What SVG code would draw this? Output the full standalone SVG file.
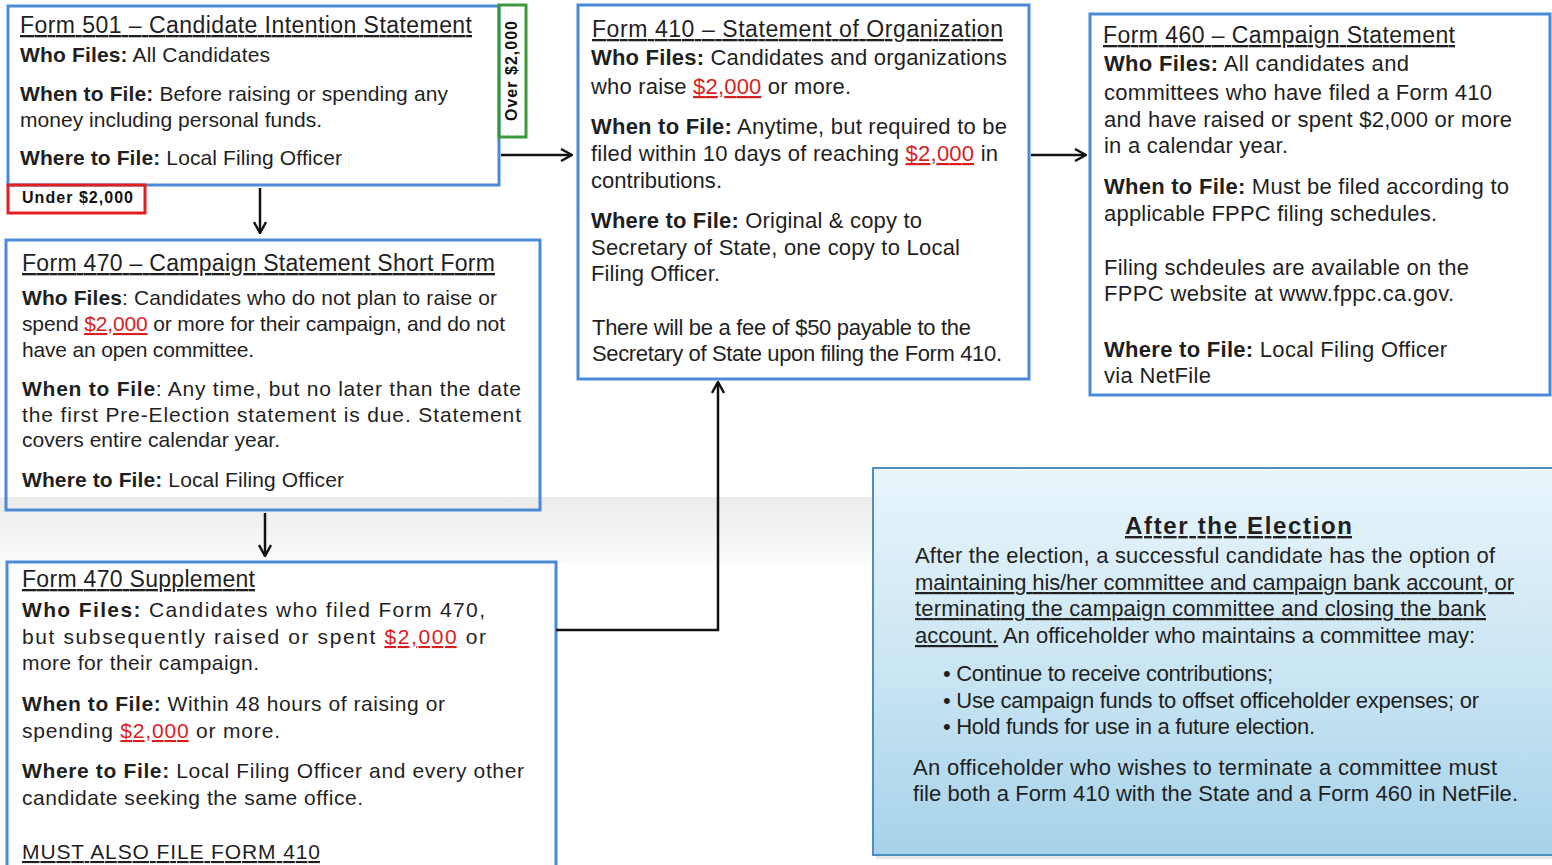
<svg xmlns="http://www.w3.org/2000/svg" width="1552" height="865" viewBox="0 0 1552 865">
<defs>
<linearGradient id="band" x1="0" y1="0" x2="0" y2="1">
<stop offset="0" stop-color="#ebebeb"/>
<stop offset="1" stop-color="#fbfbfb"/>
</linearGradient>
<linearGradient id="sky" x1="0" y1="0" x2="0" y2="1">
<stop offset="0" stop-color="#e9f5fb"/>
<stop offset="0.5" stop-color="#cbe6f3"/>
<stop offset="1" stop-color="#a6d2ea"/>
</linearGradient>
<marker id="open" viewBox="0 0 14 14" refX="13" refY="7" markerWidth="14" markerHeight="14" markerUnits="userSpaceOnUse" orient="auto">
<path d="M2,1 L13,7 L2,13" fill="none" stroke="#111" stroke-width="2.4"/>
</marker>
<style>
text{font-family:"Liberation Sans",Arial,sans-serif;fill:#1f1f1f;font-size:21px}
.big text{font-size:22px}
.t{font-size:23px;text-decoration:underline}
.big .t{font-size:23px}
.b{font-weight:bold}
.r{fill:#d81e1e;text-decoration:underline}
.u{text-decoration:underline}
.box{fill:none;stroke:#4a8ad6;stroke-width:3}
.con{fill:none;stroke:#111;stroke-width:2.5}
.small{font-size:16px;font-weight:bold;fill:#111}
.ae{font-size:22px}
</style>
</defs>
<rect width="1552" height="865" fill="#fff"/>
<rect x="0" y="497" width="873" height="66" fill="url(#band)"/>

<g id="form501">
<rect class="box" x="8" y="6" width="491" height="179"/>
<text class="t" x="20" y="33" textLength="452">Form 501 –  Candidate Intention Statement</text>
<text x="20" y="62" textLength="250"><tspan class="b">Who Files:</tspan> All Candidates</text>
<text x="20" y="101" textLength="428"><tspan class="b">When to File:</tspan> Before raising or spending any</text>
<text x="20" y="127" textLength="302">money including personal funds.</text>
<text x="20" y="165" textLength="322"><tspan class="b">Where to File:</tspan> Local Filing Officer</text>
</g>

<g id="over2000">
<rect x="499" y="5" width="27" height="132" fill="none" stroke="#3a9a3a" stroke-width="3"/>
<text class="small" transform="translate(517,71) rotate(-90)" text-anchor="middle" textLength="100">Over $2,000</text>
</g>

<g id="under2000">
<rect x="8" y="185" width="137" height="28" fill="none" stroke="#e02020" stroke-width="3"/>
<text class="small" x="22" y="203" textLength="111">Under $2,000</text>
</g>

<g id="form470">
<rect class="box" x="6" y="240" width="534" height="270"/>
<text class="t" x="22" y="271" textLength="473">Form 470 – Campaign Statement Short Form</text>
<text x="22" y="305" textLength="475"><tspan class="b">Who Files</tspan>: Candidates who do not plan to raise or</text>
<text x="22" y="331" textLength="483">spend <tspan class="r">$2,000</tspan> or more for their campaign, and do not</text>
<text x="22" y="357" textLength="232">have an open committee.</text>
<text x="22" y="396" textLength="499"><tspan class="b">When to File</tspan>: Any time, but no later than the date</text>
<text x="22" y="422" textLength="499">the first Pre-Election statement is due. Statement</text>
<text x="22" y="447" textLength="258">covers entire calendar year.</text>
<text x="22" y="487" textLength="322"><tspan class="b">Where to File:</tspan> Local Filing Officer</text>
</g>

<g id="form470supp">
<rect class="box" x="7" y="562" width="549" height="310"/>
<text class="t" x="22" y="587" textLength="233">Form 470 Supplement</text>
<text x="22" y="617" textLength="463"><tspan class="b">Who Files:</tspan> Candidates who filed Form 470,</text>
<text x="22" y="644" textLength="464">but subsequently raised or spent <tspan class="r">$2,000</tspan> or</text>
<text x="22" y="670" textLength="237">more for their campaign.</text>
<text x="22" y="711" textLength="423"><tspan class="b">When to File:</tspan> Within 48 hours of raising or</text>
<text x="22" y="738" textLength="258">spending <tspan class="r">$2,000</tspan>  or more.</text>
<text x="22" y="778" textLength="502"><tspan class="b">Where to File:</tspan> Local Filing Officer and every other</text>
<text x="22" y="805" textLength="341">candidate seeking the same office.</text>
<text class="u" x="22" y="859" textLength="298">MUST ALSO FILE FORM 410</text>
</g>

<g id="form410" class="big">
<rect class="box" x="578" y="5" width="451" height="374"/>
<text class="t" x="592" y="37" textLength="411">Form 410 – Statement of Organization</text>
<text x="591" y="65" textLength="416"><tspan class="b">Who Files:</tspan> Candidates and organizations</text>
<text x="591" y="94" textLength="260">who raise <tspan class="r">$2,000</tspan> or more.</text>
<text x="591" y="134" textLength="416"><tspan class="b">When to File:</tspan> Anytime, but required to be</text>
<text x="591" y="161" textLength="407">filed within 10 days of reaching <tspan class="r">$2,000</tspan> in</text>
<text x="591" y="188" textLength="131">contributions.</text>
<text x="591" y="228" textLength="331"><tspan class="b">Where to File:</tspan> Original &amp; copy to</text>
<text x="591" y="255" textLength="369">Secretary of State, one copy to Local</text>
<text x="591" y="281" textLength="129">Filing Officer.</text>
<text x="592" y="335" textLength="379">There will be a fee of $50 payable to the</text>
<text x="592" y="361" textLength="410">Secretary of State upon filing the Form 410.</text>
</g>

<g id="form460" class="big">
<rect class="box" x="1090" y="14" width="460" height="381"/>
<text class="t" x="1103" y="43" textLength="352">Form 460 – Campaign Statement</text>
<text x="1104" y="71" textLength="305"><tspan class="b">Who Files:</tspan> All candidates and</text>
<text x="1104" y="100" textLength="388">committees who have filed a Form 410</text>
<text x="1104" y="127" textLength="408">and have raised or spent $2,000 or more</text>
<text x="1104" y="153" textLength="184">in a calendar year.</text>
<text x="1104" y="194" textLength="405"><tspan class="b">When to File:</tspan> Must be filed according to</text>
<text x="1104" y="221" textLength="333">applicable FPPC filing schedules.</text>
<text x="1104" y="275" textLength="365">Filing schdeules are available on the</text>
<text x="1104" y="301" textLength="350">FPPC website at www.fppc.ca.gov.</text>
<text x="1104" y="357" textLength="343"><tspan class="b">Where to File:</tspan> Local Filing Officer</text>
<text x="1104" y="383" textLength="107">via NetFile</text>
</g>

<g id="after-election">
<rect x="876" y="472" width="680" height="387" fill="#d8d8d8" opacity="0.6"/>
<rect x="873" y="468" width="682" height="387" fill="url(#sky)" stroke="#4f8fc0" stroke-width="2"/>
<text class="b u" x="1125" y="534" textLength="227" style="font-size:24px">After the Election</text>
<text class="ae" x="915" y="563" textLength="580">After the election, a successful candidate has the option of</text>
<text class="ae u" x="915" y="590" textLength="599">maintaining his/her committee and campaign bank account, or</text>
<text class="ae u" x="915" y="616" textLength="571">terminating the campaign committee and closing the bank</text>
<text class="ae" x="915" y="643" textLength="560"><tspan class="u">account.</tspan> An officeholder who maintains a committee may:</text>
<text class="ae" x="943" y="681" textLength="330">• Continue to receive contributions;</text>
<text class="ae" x="943" y="708" textLength="536">• Use campaign funds to offset officeholder expenses; or</text>
<text class="ae" x="943" y="734" textLength="372">• Hold funds for use in a future election.</text>
<text class="ae" x="913" y="775" textLength="584">An officeholder who wishes to terminate a committee must</text>
<text class="ae" x="913" y="801" textLength="605">file both a Form 410 with the State and a Form 460 in NetFile.</text>
</g>

<g id="connectors">
<line class="con" x1="501" y1="155" x2="572" y2="155" marker-end="url(#open)"/>
<line class="con" x1="1031" y1="155" x2="1086" y2="155" marker-end="url(#open)"/>
<line class="con" x1="260" y1="188" x2="260" y2="233" marker-end="url(#open)"/>
<line class="con" x1="265" y1="513" x2="265" y2="556" marker-end="url(#open)"/>
<polyline class="con" points="556,630 718,630 718,382" marker-end="url(#open)"/>
</g>
</svg>
